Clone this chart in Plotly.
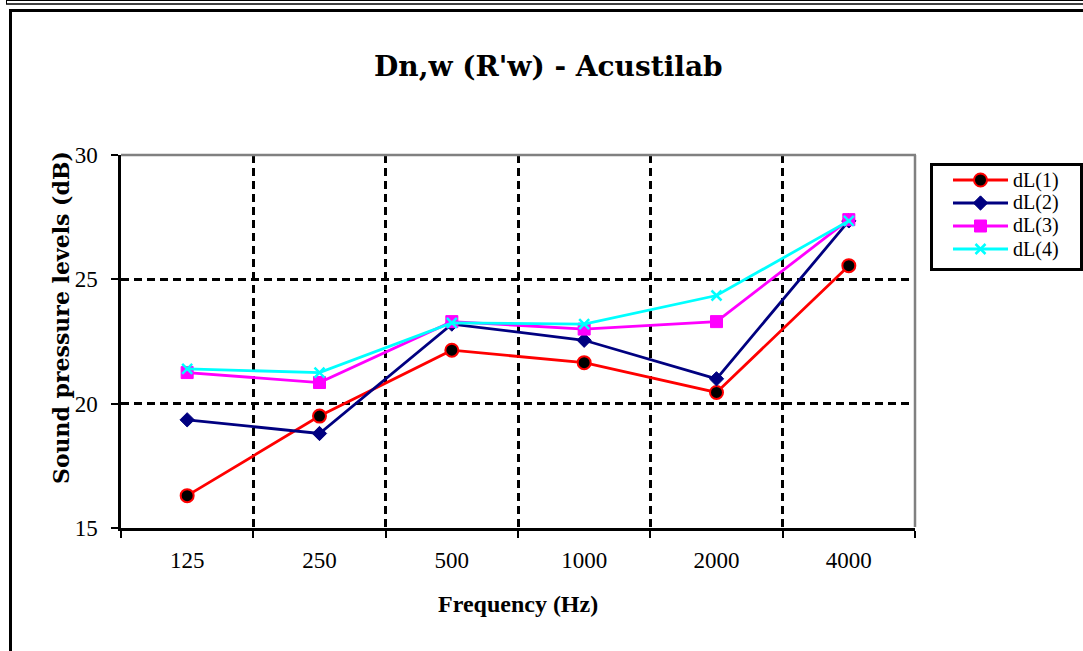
import plotly.graph_objects as go

W, H = 1083, 651

categories = ["125", "250", "500", "1000", "2000", "4000"]
series_names = ["dL(1)", "dL(2)", "dL(3)", "dL(4)"]
dL1 = [16.3, 19.5, 22.15, 21.65, 20.45, 25.55]
dL2 = [19.35, 18.8, 23.2, 22.55, 21.0, 27.35]
dL3 = [21.25, 20.85, 23.3, 23.0, 23.3, 27.4]
dL4 = [21.4, 21.25, 23.25, 23.2, 24.35, 27.35]
y_ticks = [15, 20, 25, 30]

title_text = "Dn,w (R'w) - Acustilab"
x_title = "Frequency (Hz)"
y_title = "Sound pressure levels (dB)"


def px(x):
    return x / W


def py(y):
    return 1 - y / H


styles = [
    dict(color="#FF0000", width=2.8,
         marker=dict(symbol="circle", size=13, color="black",
                     line=dict(color="#FF0000", width=2))),
    dict(color="#000080", width=2.8,
         marker=dict(symbol="diamond", size=11, color="#000080",
                     line=dict(color="#000080", width=1))),
    dict(color="#FF00FF", width=2.8,
         marker=dict(symbol="square", size=12, color="#FF00FF",
                     line=dict(color="#FF00FF", width=1))),
    dict(color="#00FFFF", width=2.8,
         marker=dict(symbol="x-thin", size=10, color="#00FFFF",
                     line=dict(color="#00FFFF", width=2.5))),
]

data_series = [dL1, dL2, dL3, dL4]

fig = go.Figure()
for name, vals, st in zip(series_names, data_series, styles):
    fig.add_trace(go.Scatter(
        x=categories, y=vals, name=name, mode="lines+markers",
        line=dict(color=st["color"], width=st["width"]),
        marker=st["marker"], showlegend=False, cliponaxis=False,
        xaxis="x", yaxis="y"))

# custom legend drawn on a small pixel-scaled axis placed where the legend is
LX0, LX1, LY0, LY1 = 930, 1083, 163, 271
legend_rows = [180, 203, 226, 249]
for name, st, ry in zip(series_names, styles, legend_rows):
    fig.add_trace(go.Scatter(
        x=[953, 1008], y=[ry, ry], mode="lines",
        line=dict(color=st["color"], width=3.2),
        showlegend=False, hoverinfo="skip", xaxis="x2", yaxis="y2"))
    fig.add_trace(go.Scatter(
        x=[980.5], y=[ry], mode="markers", marker=st["marker"],
        showlegend=False, hoverinfo="skip", xaxis="x2", yaxis="y2"))

grid_dash = "8px,5px"
fig.update_layout(
    width=W, height=H,
    margin=dict(l=0, r=0, t=0, b=0),
    paper_bgcolor="white", plot_bgcolor="rgba(0,0,0,0)",
    showlegend=False,
    xaxis=dict(
        type="category", categoryorder="array", categoryarray=categories,
        range=[-0.5, len(categories) - 0.5],
        domain=[px(121), px(915)], anchor="y",
        tickson="boundaries", showgrid=True, gridcolor="black",
        gridwidth=2.5, griddash=grid_dash,
        showline=True, linecolor="black", linewidth=2.5,
        ticks="outside", ticklen=7, tickwidth=2, tickcolor="black",
        tickfont=dict(family="Liberation Serif", size=23, color="black"),
        ticklabelstandoff=10, zeroline=False, automargin=False,
    ),
    yaxis=dict(
        range=[15, 30], tickvals=y_ticks,
        domain=[py(528), py(155)], anchor="x",
        showgrid=True, gridcolor="black", gridwidth=2.5, griddash=grid_dash,
        showline=True, linecolor="black", linewidth=2.5,
        ticks="outside", ticklen=7, tickwidth=2, tickcolor="black",
        tickfont=dict(family="Liberation Serif", size=23, color="black"),
        ticklabelstandoff=9, zeroline=False, automargin=False,
    ),
    xaxis2=dict(domain=[px(LX0), px(LX1)], range=[LX0, LX1], visible=False,
                anchor="y2", fixedrange=True),
    yaxis2=dict(domain=[py(LY1), py(LY0)], range=[LY1, LY0], visible=False,
                anchor="x2", fixedrange=True),
)

shapes = []
line_black = lambda w: dict(color="black", width=w)
# outer frame lines
shapes.append(dict(type="line", xref="paper", yref="paper",
                   x0=px(6), y0=py(0.5), x1=px(W), y1=py(0.5), line=line_black(1)))
shapes.append(dict(type="line", xref="paper", yref="paper",
                   x0=px(6.5), y0=py(0), x1=px(6.5), y1=py(4), line=line_black(1)))
shapes.append(dict(type="line", xref="paper", yref="paper",
                   x0=px(6), y0=py(4), x1=px(W), y1=py(4), line=line_black(1.5)))
shapes.append(dict(type="line", xref="paper", yref="paper",
                   x0=px(9), y0=py(10.5), x1=px(W), y1=py(10.5), line=line_black(3)))
shapes.append(dict(type="line", xref="paper", yref="paper",
                   x0=px(10.5), y0=py(9), x1=px(10.5), y1=py(H), line=line_black(3)))
# gray top / right plot borders
shapes.append(dict(type="line", xref="paper", yref="paper",
                   x0=px(121), y0=py(155), x1=px(916), y1=py(155),
                   line=dict(color="#808080", width=2.5)))
shapes.append(dict(type="line", xref="paper", yref="paper",
                   x0=px(915), y0=py(155), x1=px(915), y1=py(527),
                   line=dict(color="#808080", width=2.5)))
# legend box
shapes.append(dict(type="rect", xref="paper", yref="paper",
                   x0=px(931.5), y0=py(164.5), x1=px(1081.5), y1=py(269.5),
                   line=line_black(3), fillcolor="rgba(0,0,0,0)", layer="above"))
fig.update_layout(shapes=shapes)

annotations = [
    dict(text=title_text, xref="paper", yref="paper", x=px(548), y=py(66),
         xanchor="center", yanchor="middle", showarrow=False,
         font=dict(family="DejaVu Serif", size=28, color="black", weight="bold")),
    dict(text=x_title, xref="paper", yref="paper", x=px(518), y=py(604),
         xanchor="center", yanchor="middle", showarrow=False,
         font=dict(family="Liberation Serif", size=24, color="black", weight="bold")),
    dict(text=y_title, xref="paper", yref="paper", x=px(61), y=py(318),
         xanchor="center", yanchor="middle", showarrow=False, textangle=-90,
         font=dict(family="DejaVu Serif", size=22, color="black", weight="bold")),
]
for name, ry in zip(series_names, legend_rows):
    annotations.append(dict(text=name, xref="paper", yref="paper",
                            x=px(1012), y=py(ry), xanchor="left", yanchor="middle",
                            showarrow=False, borderpad=0,
                            font=dict(family="Liberation Serif", size=20, color="black")))
fig.update_layout(annotations=annotations)

fig.write_html("out.html",
               config={"displayModeBar": False},
               post_script="document.body.style.margin='0';"
                           "document.body.style.overflow='hidden';")
